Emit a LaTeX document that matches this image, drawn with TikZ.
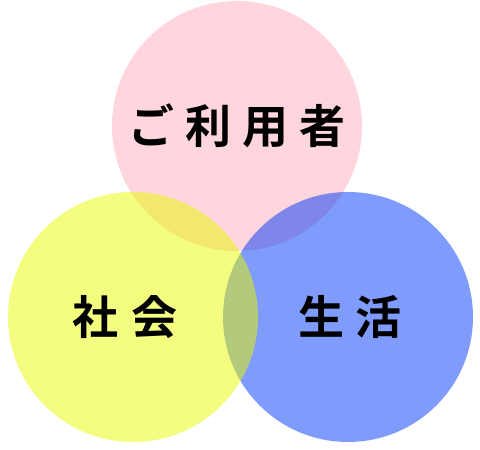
\documentclass[tikz,border=0pt]{standalone}
\usepackage{fontspec}
\newfontfamily\jpfont{Noto Sans CJK JP}[BoldFont={Noto Sans CJK JP Bold}]
\usetikzlibrary{positioning}

\definecolor{userpink}{HTML}{FFADBD}
\definecolor{socyellow}{HTML}{E7FB01}
\definecolor{lifeblue}{HTML}{0037F7}

\tikzset{
  ring/.style={circle,minimum size=250pt,inner sep=0pt,fill opacity=0.5},
  word/.style={font=\jpfont\bfseries\fontsize{46}{46}\selectfont,inner sep=0pt}
}

\begin{document}
\begin{tikzpicture}[x=1pt,y=-1pt]
\useasboundingbox (0,0) rectangle (480,450);

% the three circles
\node[ring,fill=userpink](user) at (237,126) {};
\node[ring,fill=lifeblue](life) at (348,317) {};
\node[ring,fill=socyellow](soc) at (133,317) {};

% their words
\node[word] (userword) at (user) {ご\kern11pt 利\kern11pt 用\kern11pt 者};
\node[word,xshift=-8pt] (socword) at (soc) {社\kern14pt 会};
\node[word,xshift=2pt] (lifeword) at (life) {生\kern12pt 活};

\end{tikzpicture}
\end{document}
